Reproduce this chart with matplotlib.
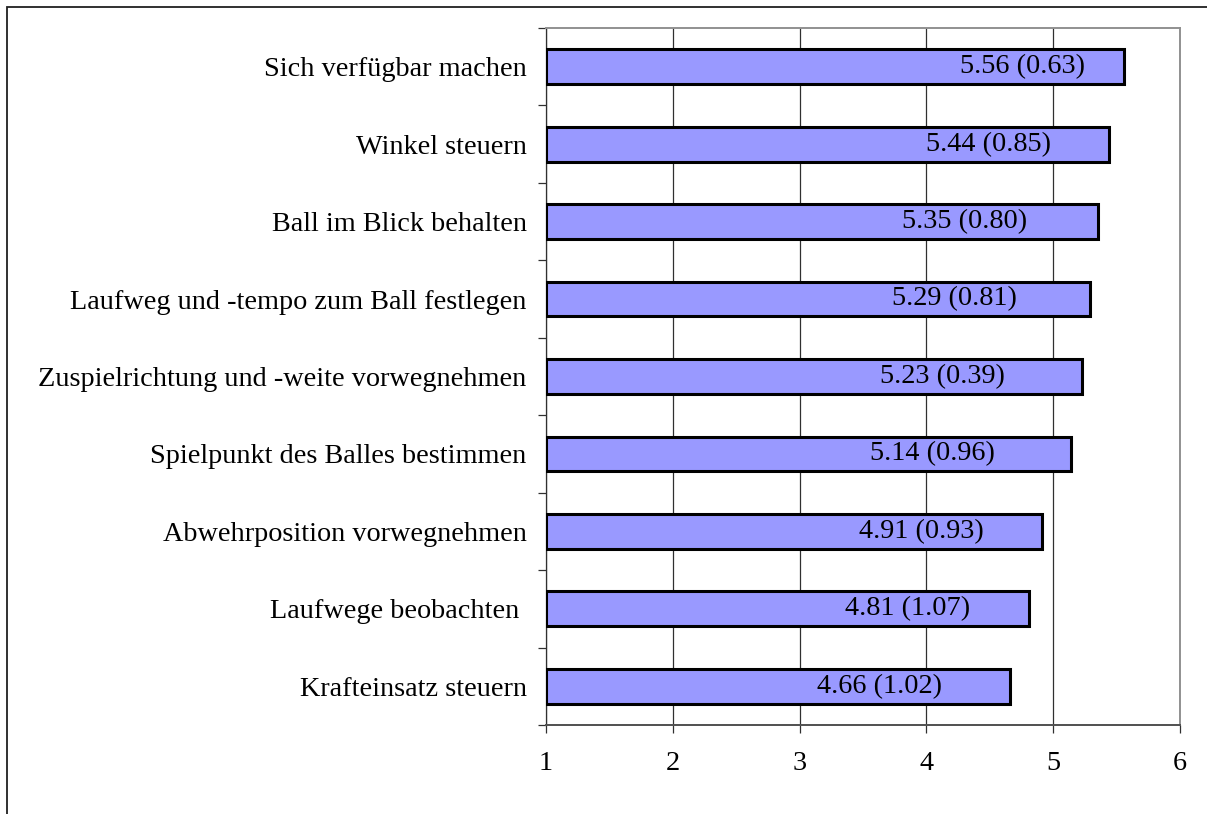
import matplotlib
matplotlib.use('Agg')
import matplotlib.pyplot as plt
from matplotlib.patches import Rectangle
import numpy as np

# Data (top to bottom)
categories = ['Sich verfügbar machen',
              'Winkel steuern',
              'Ball im Blick behalten',
              'Laufweg und -tempo zum Ball festlegen',
              'Zuspielrichtung und -weite vorwegnehmen',
              'Spielpunkt des Balles bestimmen',
              'Abwehrposition vorwegnehmen',
              'Laufwege beobachten ',
              'Krafteinsatz steuern']
means = [5.56, 5.44, 5.35, 5.29, 5.23, 5.14, 4.91, 4.81, 4.66]
sds = ['0.63', '0.85', '0.80', '0.81', '0.39', '0.96', '0.93', '1.07', '1.02']
x_ticks = [1, 2, 3, 4, 5, 6]

# where the value labels sit, relative to the bar end (data units)
label_shift = [-0.80, -0.95, -1.05, -1.07, -1.10, -1.09, -0.95, -0.96, -1.03]

plt.rcParams['font.family'] = ['Liberation Serif', 'DejaVu Serif']
fs = 20.3

fig = plt.figure(figsize=(12.07, 8.14), dpi=100)
ax = fig.add_axes([0.4524, 0.1093, 0.5252, 0.8563])

y = np.arange(len(categories))
ax.barh(y, [m - 1 for m in means], left=1, height=0.45,
        color='#9999ff', edgecolor='black', linewidth=2.2, zorder=3)

for yi, m, s, d in zip(y, means, sds, label_shift):
    ax.text(m + d, yi, f'{m:.2f} ({s})', ha='center', va='center',
            fontsize=fs, zorder=4)

ax.set_xlim(1, 6)
ax.set_ylim(len(categories) - 0.5, -0.5)
ax.set_xticks(x_ticks)
ax.set_xticklabels([str(t) for t in x_ticks], fontsize=fs)
ax.xaxis.grid(True, color='#303030', linewidth=0.9, zorder=0)

ax.set_yticks(y)
ax.set_yticklabels(categories, fontsize=fs)
ax.set_yticks(np.arange(len(categories) + 1) - 0.5, minor=True)
ax.tick_params(axis='y', which='major', length=0, pad=14)
ax.tick_params(axis='y', which='minor', length=6, width=0.9, color='#303030')
ax.tick_params(axis='x', length=6, width=0.9, color='#303030', pad=13)

for side in ['top', 'right']:
    ax.spines[side].set_color('#909090')
    ax.spines[side].set_linewidth(1.4)
ax.spines['left'].set_color('#303030')
ax.spines['left'].set_linewidth(0.9)
ax.spines['bottom'].set_color('#505050')
ax.spines['bottom'].set_linewidth(1.4)

# outer chart frame
fig.patches.append(Rectangle((7 / 1207, -0.1), 1.2, 1.1 - 7 / 814,
                             transform=fig.transFigure, fill=False,
                             edgecolor='#202020', linewidth=1.3))

plt.savefig('out.png', dpi=100)
